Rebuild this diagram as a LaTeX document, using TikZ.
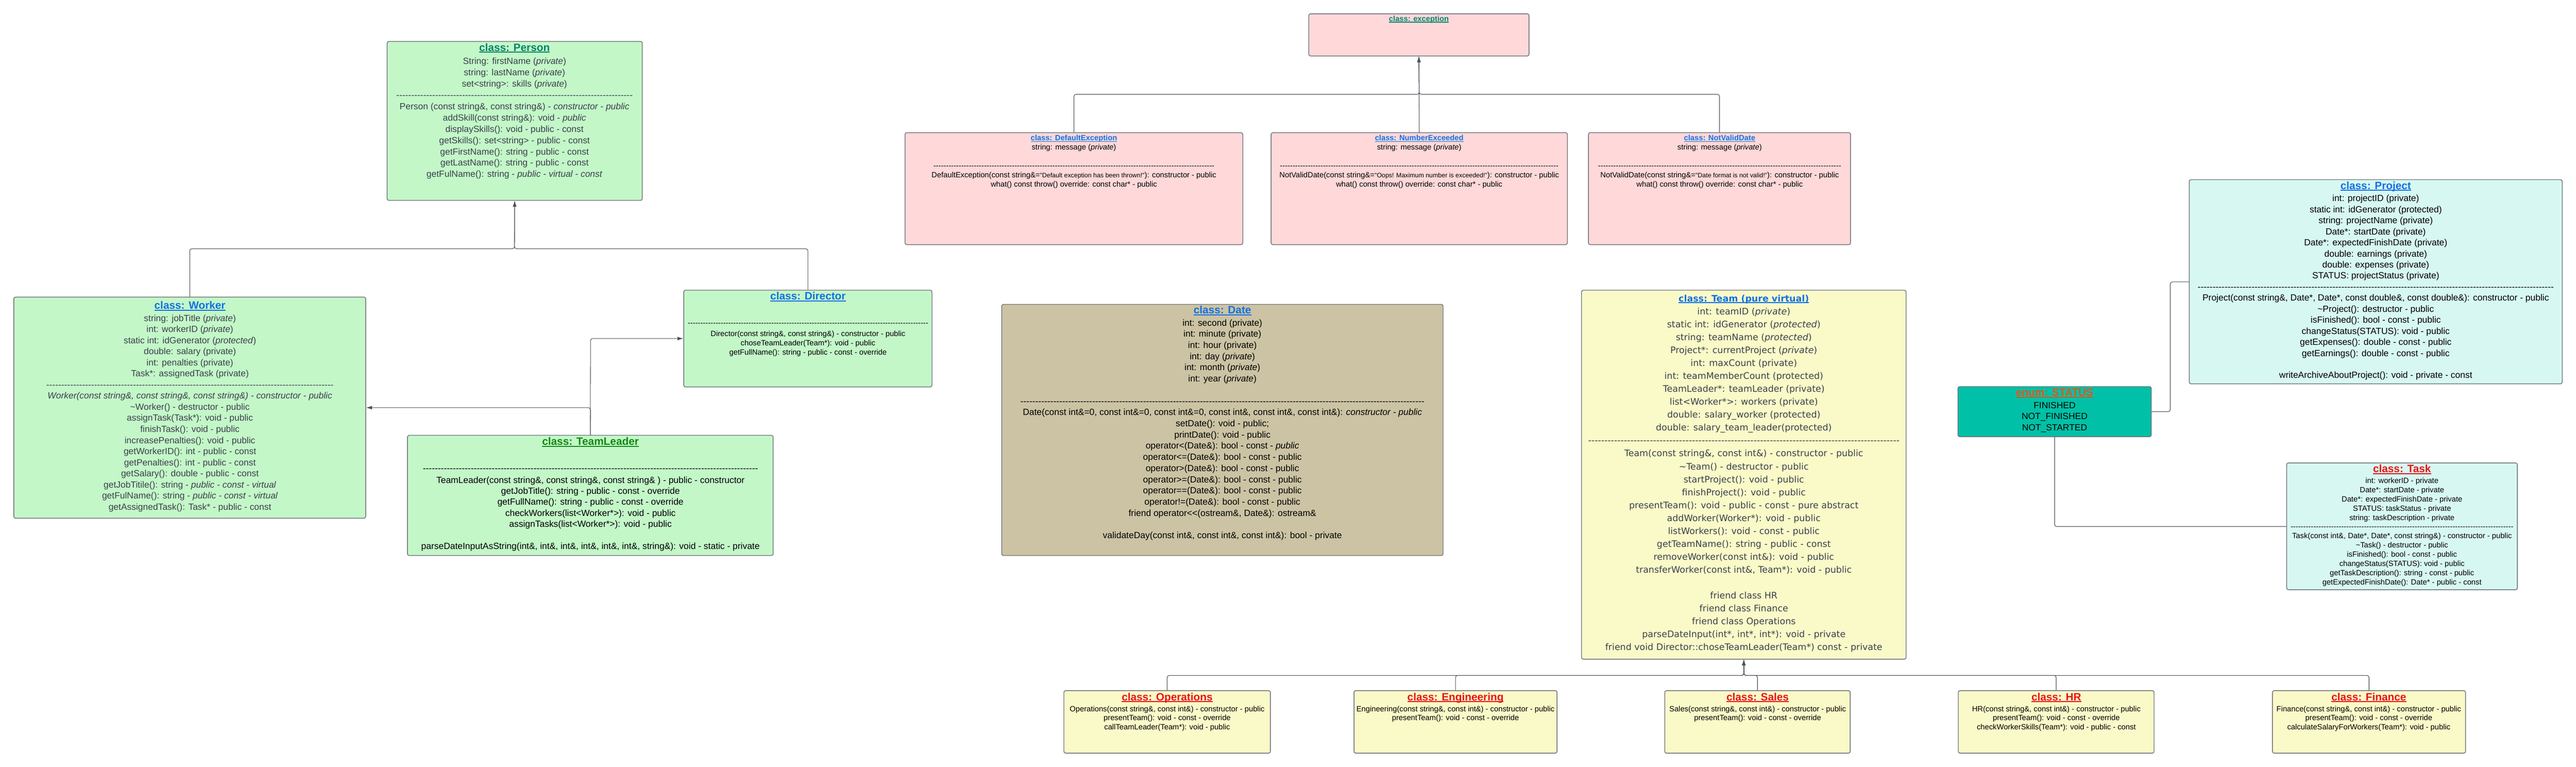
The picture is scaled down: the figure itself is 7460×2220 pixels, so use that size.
\documentclass[tikz,border=0pt]{standalone}
\usepackage{fontspec}
\setmainfont{Liberation Sans}[Ligatures=TeXOff]
\newfontfamily\teamfont{DejaVu Sans}[Ligatures=TeXOff]
\usetikzlibrary{arrows.meta,fit}
\definecolor{greenfill}{HTML}{C3F7C8}
\definecolor{pinkfill}{HTML}{FFD8D9}
\definecolor{tanfill}{HTML}{CBC3A3}
\definecolor{yellowfill}{HTML}{FAF9C8}
\definecolor{cyanfill}{HTML}{D7F8F2}
\definecolor{tealfill}{HTML}{00C1A7}
\definecolor{bordergray}{HTML}{6E7177}
\definecolor{linegray}{HTML}{4A5058}
\definecolor{tealtitle}{HTML}{00856A}
\definecolor{bluetitle}{HTML}{1071E5}
\definecolor{greentitle}{HTML}{118A11}
\definecolor{orangetitle}{HTML}{E0561C}
\definecolor{redtitle}{HTML}{E81414}
\definecolor{graytext}{HTML}{3A414A}
\newcommand\dashline[1]{\hbox to #1{\cleaders\hbox{-}\hfill}}
\newcommand\ulined[1]{\setbox0\hbox{#1}\rlap{\copy0}\rule[-0.14em]{\wd0}{0.085em}}
\newcommand\smallq[1]{{\fontsize{5.26pt}{6pt}\selectfont #1}}
\newcommand\tlines[6]{%
  \foreach \myline [count=\myi from 0] in {#6}{%
    \node[#1,anchor=base,inner sep=0pt] (#2-\myi) at (#3,{#4+\myi*#5}) {\myline};}}
\tikzset{
  box/.style={draw=bordergray, line width=0.6pt, rounded corners=0.05cm, inner sep=0pt},
  conn/.style={draw=linegray, line width=0.45pt, rounded corners=0.06cm},
  arr/.style={conn, -{Latex[length=4.8pt,width=3pt]}},
  ttl/.style={inner sep=0pt, anchor=base, font=\bfseries\fontsize{8.82pt}{10pt}\selectfont},
  ttls/.style={inner sep=0pt, anchor=base, font=\bfseries\fontsize{6.26pt}{7.5pt}\selectfont},
  bd/.style={font=\fontsize{7.4pt}{9pt}\selectfont},
  sm/.style={font=\fontsize{6.26pt}{7.5pt}\selectfont},
  tm/.style={font=\teamfont\fontsize{7.4pt}{10pt}\selectfont, text=graytext},
}
\begin{document}
\begin{tikzpicture}[x=0.01cm, y=-0.01cm]
\path[fill=white, use as bounding box] (0,0) rectangle (7460,2220);

% ---------- boxes ----------
\node[box, fill=pinkfill, fit={(3790,40) (4428,162)}] (exception) {};
\node[box, fill=pinkfill, fit={(2621,384) (3599,708)}] (defexc) {};
\node[box, fill=pinkfill, fit={(3681,384) (4539,708)}] (numexc) {};
\node[box, fill=pinkfill, fit={(4600,384) (5359,708)}] (nvd) {};
\node[box, fill=greenfill, fit={(1121,120) (1860,580)}] (person) {};
\node[box, fill=greenfill, fit={(40,860) (1059,1500)}] (worker) {};
\node[box, fill=greenfill, fit={(1980,840) (2699,1120)}] (director) {};
\node[box, fill=greenfill, fit={(1180,1260) (2239,1608)}] (teamleader) {};
\node[box, fill=tanfill, fit={(2901,881) (4179,1608)}] (date) {};
\node[box, fill=yellowfill, fit={(4580,840) (5520,1908)}] (team) {};
\node[box, fill=cyanfill, fit={(6340,520) (7420,1111)}] (project) {};
\node[box, fill=tealfill, fit={(5670,1119) (6230,1264)}] (status) {};
\node[box, fill=cyanfill, fit={(6622,1340) (7290,1707)}] (task) {};
\node[box, fill=yellowfill, fit={(3081,1999) (3679,2180)}] (ops) {};
\node[box, fill=yellowfill, fit={(3921,1999) (4509,2180)}] (eng) {};
\node[box, fill=yellowfill, fit={(4821,1999) (5358,2180)}] (sales) {};
\node[box, fill=yellowfill, fit={(5671,1999) (6238,2180)}] (hr) {};
\node[box, fill=yellowfill, fit={(6581,1999) (7140,2180)}] (finance) {};

% ---------- connectors ----------
\coordinate (jPerson) at (1490,720);
\draw[arr] (worker.north) |- (jPerson) -- (person.south);
\draw[arr] (director.north) |- (jPerson) -- (person.south);
\coordinate (jTL1) at (1710,1180);
\coordinate (jTL2) at (1710,980);
\draw[arr] (teamleader.north) -- (jTL1) -- (worker.east |- jTL1);
\draw[arr] (teamleader.north) -- (jTL2) -- (director.west |- jTL2);
\coordinate (jExc) at (4110,273);
\draw[arr] (defexc.north) |- (jExc) -- (exception.south);
\draw[arr] (numexc.north) -- (exception.south);
\draw[arr] (nvd.north) |- (jExc) -- (exception.south);
\coordinate (jTeam) at (5050,1955);
\draw[arr] (ops.north) |- (jTeam) -- (team.south);
\draw[arr] (eng.north) |- (jTeam) -- (team.south);
\draw[arr] (sales.north) |- (jTeam) -- (team.south);
\draw[arr] (hr.north) |- (jTeam) -- (team.south);
\draw[arr] (finance.north) |- (jTeam) -- (team.south);
\coordinate (jSP) at (6285,816);
\draw[conn] (status.east) -| (jSP) -- (project.west |- jSP);
\coordinate (jST) at (5950,1524);
\draw[conn] (status.south) |- (task.west |- jST);

% ---------- exception ----------
\node[ttls, text=tealtitle] (exception-t) at (4109,62) {\ulined{class: exception}};

\node[ttls, text=bluetitle] (defexc-t) at (3110,407) {\ulined{class: DefaultException}};
\tlines{sm}{defexc}{3110}{434}{26.7}{
 {string: message (\textit{private})},
 {},
 {\dashline{8.14cm}},
 {DefaultException(const string\&=\smallq{"Default exception has been thrown!"}): constructor - public},
 {what() const throw() override: const char* - public}}

\node[ttls, text=bluetitle] (numexc-t) at (4110,407) {\ulined{class: NumberExceeded}};
\tlines{sm}{numexc}{4110}{434}{26.7}{
 {string: message (\textit{private})},
 {},
 {\dashline{8.11cm}},
 {NotValidDate(const string\&=\smallq{"Oops! Maximum number is exceeded!"}): constructor - public},
 {what() const throw() override: const char* - public}}

\node[ttls, text=bluetitle] (nvd-t) at (4980,407) {\ulined{class: NotValidDate}};
\tlines{sm}{nvd}{4980}{434}{26.7}{
 {string: message (\textit{private})},
 {},
 {\dashline{7.10cm}},
 {NotValidDate(const string\&=\smallq{"Date format is not valid!"}): constructor - public},
 {what() const throw() override: const char* - public}}

% ---------- Person ----------
\node[ttl, text=tealtitle] (person-t) at (1490,148) {\ulined{class: Person}};
\tlines{bd,text=graytext}{person}{1490}{186}{32.7}{
 {String: firstName (\textit{private})},
 {string: lastName (\textit{private})},
 {set<string>: skills (\textit{private})},
 {\dashline{6.87cm}},
 {Person (const string\&, const string\&) - \textit{constructor - public}},
 {addSkill(const string\&): void - \textit{public}},
 {displaySkills(): void - public - const},
 {getSkills(): set<string> - public - const},
 {getFirstName(): string - public - const},
 {getLastName(): string - public - const},
 {getFulName(): string - \textit{public - virtual - const}}}

% ---------- Worker ----------
\node[ttl, text=bluetitle] (worker-t) at (550,895) {\ulined{class: Worker}};
\tlines{bd,text=graytext}{worker}{550}{930}{32.1}{
 {string: jobTitle (\textit{private})},
 {int: workerID (\textit{private})},
 {static int: idGenerator (\textit{protected})},
 {double: salary (private)},
 {int: penalties (private)},
 {Task*: assignedTask (private)},
 {\dashline{8.34cm}},
 {\textit{Worker(const string\&, const string\&, const string\&) - constructor - public}},
 {\textasciitilde Worker() - destructor - public},
 {assignTask(Task*): void - public},
 {finishTask(): void - public},
 {increasePenalties(): void - public},
 {getWorkerID(): int - public - const},
 {getPenalties(): int - public - const},
 {getSalary(): double - public - const},
 {getJobTitile(): string - \textit{public - const - virtual}},
 {getFulName(): string - \textit{public - const - virtual}},
 {getAssignedTask(): Task* - public - const}}

% ---------- Director ----------
\node[ttl, text=bluetitle] (director-t) at (2340,868) {\ulined{class: Director}};
\node[sm, inner sep=0pt, anchor=base] (director-d) at (2340,942) {\dashline{6.99cm}};
\tlines{sm}{director}{2340}{974}{26.7}{
 {Director(const string\&, const string\&) - constructor - public},
 {choseTeamLeader(Team*): void - public},
 {getFullName(): string - public - const - override}}

% ---------- TeamLeader ----------
\node[ttl, text=greentitle] (teamleader-t) at (1710,1289) {\ulined{class: TeamLeader}};
\node[bd, inner sep=0pt, anchor=base] (teamleader-d) at (1710,1364) {\dashline{9.76cm}};
\tlines{bd}{teamleader}{1710}{1398}{32}{
 {TeamLeader(const string\&, const string\&, const string\& ) - public - constructor},
 {getJobTitle(): string - public - const - override},
 {getFullName(): string - public - const - override},
 {checkWorkers(list<Worker*>): void - public},
 {assignTasks(list<Worker*>): void - public},
 {},
 {parseDateInputAsString(int\&, int\&, int\&, int\&, int\&, int\&, string\&): void - static - private}}

% ---------- Date ----------
\node[ttl, text=bluetitle] (date-t) at (3540,908) {\ulined{class: Date}};
\tlines{bd}{date}{3540}{943}{32.4}{
 {int: second (private)},
 {int: minute (private)},
 {int: hour (private)},
 {int: day (\textit{private})},
 {int: month (\textit{private})},
 {int: year (\textit{private})},
 {},
 {\dashline{11.77cm}},
 {Date(const int\&=0, const int\&=0, const int\&=0, const int\&, const int\&, const int\&): \textit{constructor - public}},
 {setDate(): void - public;},
 {printDate(): void - public},
 {operator<(Date\&): bool - const - \textit{public}},
 {operator<=(Date\&): bool - const - public},
 {operator>(Date\&): bool - const - public},
 {operator>=(Date\&): bool - const - public},
 {operator==(Date\&): bool - const - public},
 {operator!=(Date\&): bool - const - public},
 {friend operator<<(ostream\&, Date\&): ostream\&},
 {},
 {validateDay(const int\&, const int\&, const int\&): bool - private}}

% ---------- Team ----------
\node[inner sep=0pt, anchor=base, font=\teamfont\bfseries\fontsize{7.4pt}{10pt}\selectfont, text=bluetitle] (team-t) at (5050,873) {\ulined{class: Team (pure virtual)}};
\tlines{tm}{team}{5050}{910.4}{37.4}{
 {int: teamID (\textit{private})},
 {static int: idGenerator (\textit{protected})},
 {string: teamName (\textit{protected})},
 {Project*: currentProject (\textit{private})},
 {int: maxCount (private)},
 {int: teamMemberCount (protected)},
 {TeamLeader*: teamLeader (private)},
 {list<Worker*>: workers (private)},
 {double: salary\_worker (protected)},
 {double: salary\_team\_leader(protected)},
 {\dashline{9.02cm}},
 {Team(const string\&, const int\&) - constructor - public},
 {\textasciitilde Team() - destructor - public},
 {startProject(): void - public},
 {finishProject(): void - public},
 {presentTeam(): void - public - const - pure abstract},
 {addWorker(Worker*): void - public},
 {listWorkers(): void - const - public},
 {getTeamName(): string - public - const},
 {removeWorker(const int\&): void - public},
 {transferWorker(const int\&, Team*): void - public},
 {},
 {friend class HR},
 {friend class Finance},
 {friend class Operations},
 {parseDateInput(int*, int*, int*): void - private},
 {friend void Director::choseTeamLeader(Team*) const - private}}

% ---------- Project ----------
\node[ttl, text=bluetitle] (project-t) at (6880,548) {\ulined{class: Project}};
\tlines{bd}{project}{6880}{583}{32}{
 {int: projectID (private)},
 {static int: idGenerator (protected)},
 {string: projectName (private)},
 {Date*: startDate (private)},
 {Date*: expectedFinishDate (private)},
 {double: earnings (private)},
 {double: expenses (private)},
 {STATUS: projectStatus (private)},
 {\dashline{10.38cm}},
 {Project(const string\&, Date*, Date*, const double\&, const double\&): constructor - public},
 {\textasciitilde Project(): destructor - public},
 {isFinished(): bool - const - public},
 {changeStatus(STATUS): void - public},
 {getExpenses(): double - const - public},
 {getEarnings(): double - const - public},
 {},
 {writeArchiveAboutProject(): void - private - const}}

% ---------- STATUS ----------
\node[ttl, text=orangetitle] (status-t) at (5950,1147) {\ulined{enum: STATUS}};
\tlines{bd}{status}{5950}{1182}{32}{
 {FINISHED},
 {NOT\_FINISHED},
 {NOT\_STARTED}}

% ---------- Task ----------
\node[ttl, text=redtitle] (task-t) at (6956,1368) {\ulined{class: Task}};
\tlines{sm}{task}{6956}{1399}{26.65}{
 {int: workerID - private},
 {Date*: startDate - private},
 {Date*: expectedFinishDate - private},
 {STATUS: taskStatus - private},
 {string: taskDescription - private},
 {\dashline{6.52cm}},
 {Task(const int\&, Date*, Date*, const string\&) - constructor - public},
 {\textasciitilde Task() - destructor - public},
 {isFinished(): bool - const - public},
 {changeStatus(STATUS): void - public},
 {getTaskDescription(): string - const - public},
 {getExpectedFinishDate(): Date* - public - const}}

% ---------- Team subclasses ----------
\node[ttl, text=redtitle] (ops-t) at (3380,2028) {\ulined{class: Operations}};
\tlines{sm}{ops}{3380}{2059}{26.7}{
 {Operations(const string\&, const int\&) - constructor - public},
 {presentTeam(): void - const - override},
 {callTeamLeader(Team*): void - public}}

\node[ttl, text=redtitle] (eng-t) at (4215,2028) {\ulined{class: Engineering}};
\tlines{sm}{eng}{4215}{2059}{26.7}{
 {Engineering(const string\&, const int\&) - constructor - public},
 {presentTeam(): void - const - override}}

\node[ttl, text=redtitle] (sales-t) at (5090,2028) {\ulined{class: Sales}};
\tlines{sm}{sales}{5090}{2059}{26.7}{
 {Sales(const string\&, const int\&) - constructor - public},
 {presentTeam(): void - const - override}}

\node[ttl, text=redtitle] (hr-t) at (5955,2028) {\ulined{class: HR}};
\tlines{sm}{hr}{5955}{2059}{26.7}{
 {HR(const string\&, const int\&) - constructor - public},
 {presentTeam(): void - const - override},
 {checkWorkerSkills(Team*): void - public - const}}

\node[ttl, text=redtitle] (finance-t) at (6860,2028) {\ulined{class: Finance}};
\tlines{sm}{finance}{6860}{2059}{26.7}{
 {Finance(const string\&, const int\&) - constructor - public},
 {presentTeam(): void - const - override},
 {calculateSalaryForWorkers(Team*): void - public}}
\end{tikzpicture}
\end{document}
